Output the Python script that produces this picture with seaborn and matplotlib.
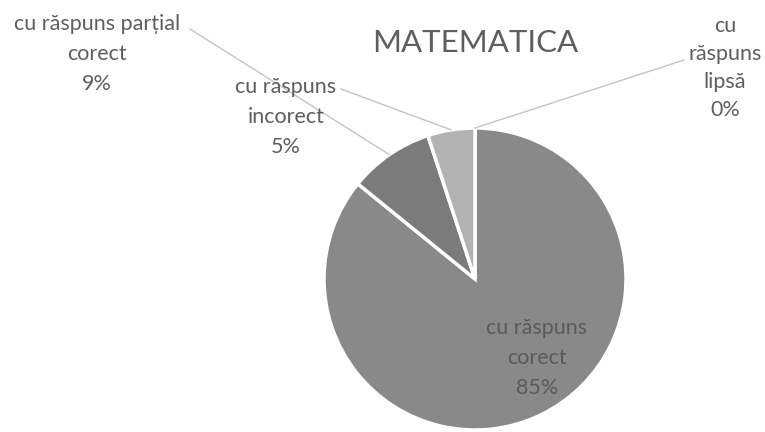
import numpy as np
import matplotlib
matplotlib.use("Agg")
import matplotlib.pyplot as plt
import seaborn as sns

# estilo simples, fundo branco
sns.set_style("white")
plt.rcParams['font.family'] = ['Lato', 'DejaVu Sans']

# dados do grafico (ordem horaria a partir do topo)
categorii = ["cu răspuns lipsă", "cu răspuns corect",
             "cu răspuns parțial corect", "cu răspuns incorect"]
procente = [0, 85, 9, 5]
etichete = ["cu\nrăspuns\nlipsă\n0%", "cu răspuns\ncorect\n85%",
            "cu răspuns parțial\ncorect\n9%", "cu răspuns\nincorect\n5%"]
culori = ["#9a9a9a", "#898989", "#7b7b7b", "#b2b2b2"]
titlu = "MATEMATICA"

W, H = 765, 432
fig = plt.figure(figsize=(W / 100, H / 100), dpi=100)
ax = fig.add_axes([0, 0, 1, 1])

cx, cy, r = 475, H - 279, 151
wedges, _ = ax.pie(procente, colors=culori, startangle=90, counterclock=False,
                   center=(cx, cy), radius=r, frame=True,
                   wedgeprops=dict(edgecolor='white', linewidth=2.5))
ax.set_xlim(0, W)
ax.set_ylim(0, H)
ax.set_aspect('equal')
ax.axis('off')

cor_texto = "#5e5e5e"
ax.text(cx, H - 43, titlu, ha='center', va='center', fontsize=22.5, color=cor_texto)

# posicao dos rotulos externos (x, y em pixels a partir do topo) e inicio da linha guia
pos_rotulos = {0: (725, 68), 2: (97, 54), 3: (286, 117)}
inicio_linha = {0: (684, 60), 2: (190, 29), 3: (341, 89)}

for i, w in enumerate(wedges):
    if i == 1:
        continue
    lx, ly = pos_rotulos[i]
    ax.text(lx, H - ly, etichete[i], ha='center', va='center', fontsize=15.5,
            color=cor_texto, linespacing=1.6 if i != 0 else 1.48)
    ang = np.deg2rad((w.theta1 + w.theta2) / 2)
    px, py = cx + r * np.cos(ang), cy + r * np.sin(ang)
    sx, sy = inicio_linha[i]
    ax.plot([sx, px], [H - sy, py], color="#c4c4c4", linewidth=1.0)

# rotulo interno da fatia maior
ax.text(537, H - 358, etichete[1], ha='center', va='center', fontsize=15.5,
        color="#5a5a5a", linespacing=1.6)

plt.savefig("out.png", dpi=100)
